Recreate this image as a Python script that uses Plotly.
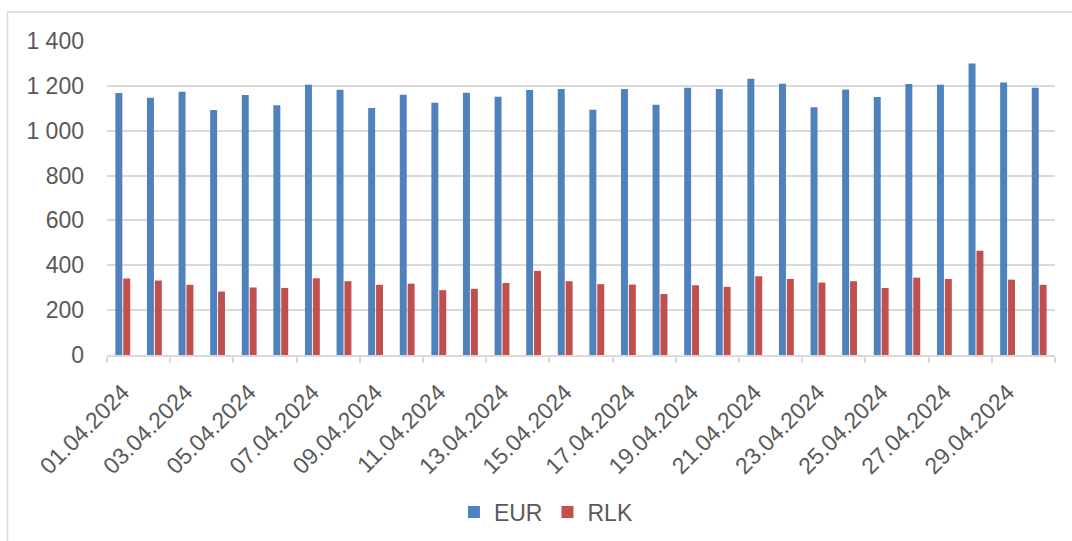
import plotly.graph_objects as go

# Daily values for April 2024
dates = [f"{d:02d}.04.2024" for d in range(1, 31)]
eur = [1168, 1147, 1174, 1092, 1159, 1113, 1205, 1183, 1101, 1160,
       1125, 1169, 1151, 1181, 1186, 1094, 1186, 1116, 1192, 1186,
       1232, 1209, 1105, 1184, 1150, 1208, 1205, 1300, 1215, 1192]
rlk = [341, 332, 313, 283, 301, 299, 342, 329, 313, 318,
       289, 295, 321, 375, 329, 316, 314, 272, 311, 304,
       351, 339, 323, 329, 299, 345, 339, 465, 336, 313]

y_ticks = [0, 200, 400, 600, 800, 1000, 1200, 1400]
y_tick_text = ["0", "200", "400", "600", "800", "1 000", "1 200", "1 400"]

# Day positions on a linear axis; every second date is labelled,
# tick marks sit on the boundaries between pairs of days.
pos = list(range(len(dates)))
label_pos = pos[::2]
label_text = dates[::2]
boundary_pos = [p - 0.5 for p in pos[::2]] + [pos[-1] + 0.5]

TEXT = "#595959"
GRID = "#d9d9d9"
FONT = "Liberation Sans, Arial, sans-serif"
FS = 23

fig = go.Figure()
fig.add_trace(go.Bar(x=pos, y=eur, name="EUR", marker_color="#4F81BD",
                     marker_line_width=0, customdata=dates,
                     hovertemplate="%{customdata}: %{y}<extra>EUR</extra>"))
fig.add_trace(go.Bar(x=pos, y=rlk, name="RLK", marker_color="#C0504D",
                     marker_line_width=0, customdata=dates,
                     hovertemplate="%{customdata}: %{y}<extra>RLK</extra>"))

fig.update_layout(
    width=1072, height=541,
    margin=dict(l=107, r=17, t=41, b=186, autoexpand=False),
    paper_bgcolor="white", plot_bgcolor="white",
    barmode="group", bargap=0.5, bargroupgap=0.12,
    font=dict(family=FONT, size=FS, color=TEXT),
    showlegend=True,
    legend=dict(orientation="h", x=0.463, xanchor="center", y=-0.5,
                yanchor="middle", font=dict(size=FS, color=TEXT),
                itemwidth=30, traceorder="normal"),
    # chart-area frame (left and top edges)
    shapes=[dict(type="path", xref="paper", yref="paper",
                 path="M -0.105,-0.7 L -0.105,1.092 L 1.02,1.092",
                 line=dict(color=GRID, width=1.5))],
)

fig.update_xaxes(
    range=[-0.5, len(dates) - 0.5], tickmode="array",
    tickvals=label_pos, ticktext=label_text, tickangle=-45,
    ticks="", ticklabelstandoff=13, automargin=False,
    minor=dict(tickmode="array", tickvals=boundary_pos, ticks="outside",
               ticklen=6, tickcolor=GRID, tickwidth=1.5, showgrid=False),
    showline=True, linecolor=GRID, linewidth=1.5, showgrid=False,
    zeroline=False, tickfont=dict(size=FS, color=TEXT),
)
fig.update_yaxes(
    range=[0, 1400], tickmode="array", tickvals=y_ticks, ticktext=y_tick_text,
    showgrid=True, gridcolor=GRID, gridwidth=1.5, zeroline=False,
    showline=False, ticks="", ticklabelstandoff=22, automargin=False,
    tickfont=dict(size=FS, color=TEXT),
)

fig.write_html("out.html")
